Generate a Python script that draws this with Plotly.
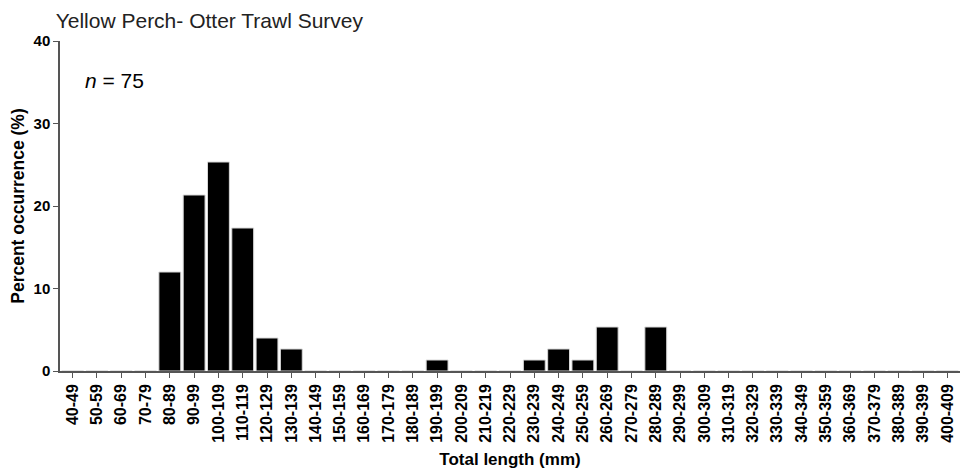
import plotly.graph_objects as go

# Length bins (mm) and percent occurrence of Yellow Perch (n = 75)
bins = [f"{a}-{a + 9}" for a in range(40, 410, 10)]
counts = [0, 0, 0, 0, 9, 16, 19, 13, 3, 2, 0, 0, 0, 0, 0, 1, 0, 0, 0, 1,
          2, 1, 4, 0, 4, 0, 0, 0, 0, 0, 0, 0, 0, 0, 0, 0, 0]
n_fish = 75
percent = [100.0 * c / n_fish for c in counts]

font = "Liberation Sans, Arial, sans-serif"

fig = go.Figure(
    go.Bar(
        x=bins,
        y=percent,
        marker=dict(color="black", line=dict(color="#d8d8d8", width=1)),
        width=0.9,
    )
)

fig.update_layout(
    width=960,
    height=473,
    margin=dict(l=60, r=0, t=41, b=102),
    paper_bgcolor="white",
    plot_bgcolor="white",
    showlegend=False,
    font=dict(family=font, color="black"),
    title=dict(
        text="Yellow Perch- Otter Trawl Survey",
        x=0.058, xanchor="left", xref="container",
        y=0.957, yanchor="middle",
        font=dict(size=21, family=font, color="#222"),
    ),
    annotations=[
        dict(
            text="<i>n</i> = 75", x=0.025, y=35.2, xref="paper", yref="y",
            xanchor="left", yanchor="middle", showarrow=False,
            font=dict(size=21, family=font, color="black"),
        )
    ],
)

fig.update_xaxes(
    type="category",
    range=[-0.52, 36.52],
    showline=True, linecolor="#555", linewidth=1.5,
    ticks="outside", ticklen=5, tickcolor="#555",
    tickangle=-90,
    tickfont=dict(size=16, family=font, color="black", weight="bold"),
    title=dict(text="<b>Total length (mm)</b>", font=dict(size=17, family=font), standoff=11),
    showgrid=False, zeroline=False,
)

fig.update_yaxes(
    range=[0, 40],
    tickvals=[0, 10, 20, 30, 40],
    showline=True, linecolor="#555", linewidth=1.5,
    ticks="outside", ticklen=5, tickcolor="#555",
    tickfont=dict(size=15, family=font, color="black", weight="bold"),
    title=dict(text="<b>Percent occurrence (%)</b>", font=dict(size=17.5, family=font), standoff=4),
    showgrid=False, zeroline=False,
)

fig.write_html("out.html")
